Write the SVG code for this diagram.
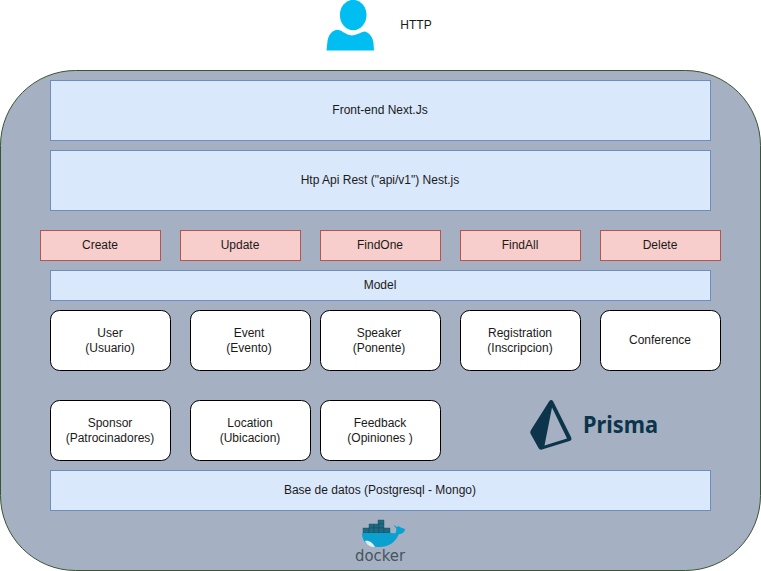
<svg xmlns="http://www.w3.org/2000/svg" width="761" height="571" viewBox="0 0 761 571">
<style>
text{font-family:"Liberation Sans",Arial,sans-serif;font-size:12px;fill:#1a1a1a;text-anchor:middle}
.b{fill:#dae8fc;stroke:#6c8ebf}
.r{fill:#f8cecc;stroke:#b85450}
.w{fill:#fff;stroke:#000}
</style>
<rect width="761" height="571" fill="#fff"/>
<g id="container"><rect x="0.5" y="70.5" width="760" height="500" rx="75" ry="75" fill="#a5b1c2" stroke="#3a5431"/></g>
<g id="connectors"></g>
<g id="user">
<ellipse cx="353.200" cy="15" rx="13.300" ry="15.200" fill="#00bef2"/>
<path d="M326.500 50.500L327.500 41C328.500 35 332 30 338 29.800C342 30.500 346 35 351.500 35.500C356 35.500 361 32 365 31.500C370 33 373 38 373.500 43L374 50.500Z" fill="#00bef2"/>
<text x="416" y="29">HTTP</text>
</g>
<g id="frontend"><rect class="b" x="50.500" y="80.500" width="660" height="60"/><text x="380" y="114">Front-end Next.Js</text></g>
<g id="api"><rect class="b" x="50.500" y="150.500" width="660" height="60"/><text x="380" y="184">Htp Api Rest ("api/v1") Nest.js</text></g>
<g id="create"><rect class="r" x="40.500" y="230.500" width="120" height="30"/><text x="100" y="249">Create</text></g>
<g id="update"><rect class="r" x="180.500" y="230.500" width="120" height="30"/><text x="240" y="249">Update</text></g>
<g id="findone"><rect class="r" x="320.500" y="230.500" width="120" height="30"/><text x="380" y="249">FindOne</text></g>
<g id="findall"><rect class="r" x="460.500" y="230.500" width="120" height="30"/><text x="520" y="249">FindAll</text></g>
<g id="delete"><rect class="r" x="600.500" y="230.500" width="120" height="30"/><text x="660" y="249">Delete</text></g>
<g id="model"><rect class="b" x="50.500" y="270.500" width="660" height="30"/><text x="380" y="289">Model</text></g>
<g id="user-entity"><rect class="w" x="50.500" y="310.500" width="120" height="60" rx="9"/><text x="110" y="337">User</text><text x="110" y="352">(Usuario)</text></g>
<g id="event"><rect class="w" x="190.500" y="310.500" width="120" height="60" rx="9"/><text x="249" y="337">Event</text><text x="249" y="352">(Evento)</text></g>
<g id="speaker"><rect class="w" x="320.500" y="310.500" width="120" height="60" rx="9"/><text x="379" y="337">Speaker</text><text x="379" y="352">(Ponente)</text></g>
<g id="registration"><rect class="w" x="460.500" y="310.500" width="120" height="60" rx="9"/><text x="520" y="337">Registration</text><text x="520" y="352">(Inscripcion)</text></g>
<g id="conference"><rect class="w" x="600.500" y="310.500" width="120" height="60" rx="9"/><text x="660" y="344">Conference</text></g>
<g id="sponsor"><rect class="w" x="50.500" y="400.500" width="120" height="60" rx="9"/><text x="110" y="427">Sponsor</text><text x="110" y="442">(Patrocinadores)</text></g>
<g id="location"><rect class="w" x="190.500" y="400.500" width="120" height="60" rx="9"/><text x="250" y="427">Location</text><text x="250" y="442">(Ubicacion)</text></g>
<g id="feedback"><rect class="w" x="320.500" y="400.500" width="120" height="60" rx="9"/><text x="380" y="427">Feedback</text><text x="380" y="442">(Opiniones )</text></g>
<g id="prisma">
<path fill-rule="evenodd" fill="#0c344b" d="M549.500 400.800C551 399.500 552.500 400 553.500 402L571 437C572 439 571.500 440.500 569.500 441L542 449.500C540.500 450 539.500 449.500 538.500 448L531 434.500C530 433 530 431.500 531 430L549.500 400.800ZM552 407.500L544.500 445.500L567 438.500Z"/>
<text x="620.500" y="433" textLength="75" lengthAdjust="spacingAndGlyphs" style="font-family:'Noto Sans','Open Sans',sans-serif;font-size:23px;font-weight:700;fill:#0c344b">Prisma</text>
</g>
<g id="database"><rect class="b" x="50.500" y="470.500" width="660" height="40"/><text x="380" y="494">Base de datos (Postgresql - Mongo)</text></g>
<g id="docker">
<g fill="#1d6a82" stroke="#17495c" stroke-width="0.4"><rect x="378" y="520" width="6" height="4"/><rect x="369" y="524" width="5" height="4"/><rect x="374" y="524" width="5" height="4"/><rect x="379" y="524" width="5" height="4"/><rect x="363" y="528" width="6" height="5"/><rect x="369" y="528" width="5" height="5"/><rect x="374" y="528" width="5" height="5"/><rect x="379" y="528" width="5" height="5"/><rect x="384" y="528" width="6" height="5"/></g>
<path d="M362 533H392C395 534 397 533 396 528C395 527 394 526 394 525L397 527L399 526C400 528 404 528 405 529C405 532 402 534 399 534C396 541 390 547 379 547C368 547 362 542 362 533Z" fill="#0aa0cf"/>
<path d="M365 541C369 540 373 543 375 547C370 547 367 545 365 541Z" fill="#dfeef2"/>
<text x="380" y="561" textLength="50" lengthAdjust="spacingAndGlyphs" style="font-family:'DejaVu Sans',sans-serif;font-size:15px;fill:#46545e">docker</text>
</g>
</svg>
